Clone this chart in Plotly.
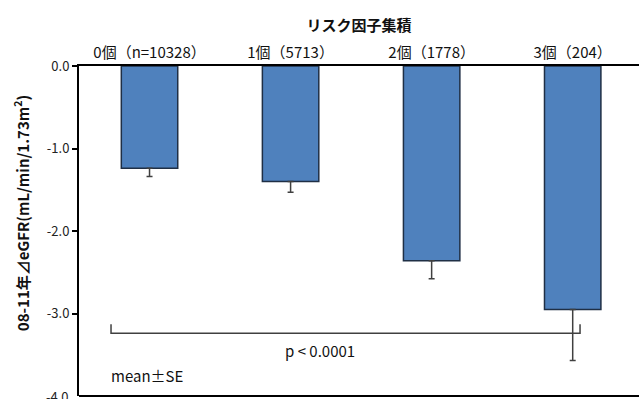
import plotly.graph_objects as go

# Risk-factor accumulation groups and eGFR change (mean ± SE)
categories = ["0個（n=10328）", "1個（5713）", "2個（1778）", "3個（204）"]
mean_change = [-1.24, -1.40, -2.36, -2.95]
se = [0.10, 0.13, 0.22, 0.62]
y_ticks = [0.0, -1.0, -2.0, -3.0, -4.0]

FONT = "Noto Sans CJK JP"
x_pos = list(range(len(categories)))

fig = go.Figure()
fig.add_trace(go.Bar(
    x=x_pos,
    y=mean_change,
    width=0.40,
    marker=dict(color="#4F81BD", line=dict(color="#1F2F45", width=1.5)),
    error_y=dict(type="data", symmetric=False,
                 array=[0] * len(se), arrayminus=se,
                 color="#404040", thickness=1.5, width=3),
))

# significance bracket spanning all groups
bx0, bx1, by, btop = -0.273, 3.052, -3.24, -3.13
fig.add_shape(type="path",
              path=f"M {bx0},{btop} L {bx0},{by} L {bx1},{by} L {bx1},{btop}",
              line=dict(color="#404040", width=1.5), xref="x", yref="y")

# bottom frame line
fig.add_shape(type="line", x0=0, x1=1, y0=0, y1=0, xref="paper", yref="paper",
              line=dict(color="black", width=2))

fig.add_annotation(x=1.21, y=-3.45, xref="x", yref="y", text="p < 0.0001",
                   showarrow=False, font=dict(family=FONT, size=15, color="#111"))
fig.add_annotation(x=-0.02, y=-3.75, xref="x", yref="y", text="mean±SE",
                   showarrow=False, font=dict(family=FONT, size=15, color="#111"))

# lowest tick label sits on the bottom edge of the canvas
fig.add_annotation(x=0, y=y_ticks[-1], xref="paper", yref="y",
                   text=f"{y_ticks[-1]:.1f}", showarrow=False,
                   xanchor="right", xshift=-8,
                   font=dict(family=FONT, size=13, color="#222"))

# vertical axis title
fig.add_annotation(x=-0.103, y=0.555, xref="paper", yref="paper",
                   xanchor="center", yanchor="middle",
                   text="<b>08-11年⊿eGFR(mL/min/1.73m<sup>2</sup>)</b>",
                   textangle=-90, showarrow=False,
                   font=dict(family=FONT, size=15, color="#111"))

fig.update_layout(
    width=639, height=399,
    margin=dict(l=79, r=0, t=66, b=3),
    plot_bgcolor="white", paper_bgcolor="white",
    showlegend=False,
    font=dict(family=FONT, color="#111"),
    xaxis=dict(
        side="top", range=[-0.5, 3.47],
        tickmode="array", tickvals=x_pos, ticktext=categories,
        tickfont=dict(size=15, color="#111"),
        ticks="", showgrid=False, zeroline=False,
        showline=True, linecolor="black", linewidth=2,
        title=dict(text="<b>リスク因子集積</b>", font=dict(size=15, color="#111"),
                   standoff=6),
        fixedrange=True,
    ),
    yaxis=dict(
        range=[-4.0, 0.0],
        tickmode="array", tickvals=y_ticks[:-1],
        ticktext=[f"{v:.1f}" for v in y_ticks[:-1]],
        tickfont=dict(size=13, color="#222"),
        ticks="outside", ticklen=5, tickcolor="black", tickwidth=1.5,
        showgrid=False, zeroline=False,
        showline=True, linecolor="black", linewidth=2,
    ),
)

fig.write_html("out.html")
